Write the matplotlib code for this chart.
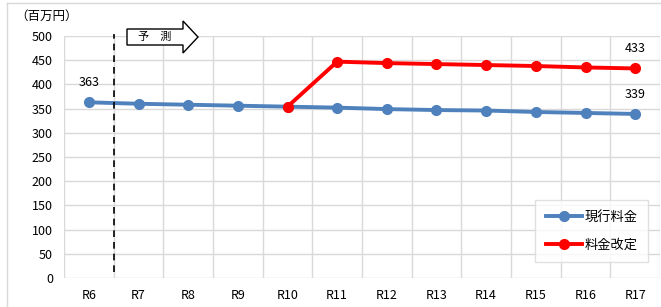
import matplotlib.pyplot as plt
from matplotlib.patches import Polygon
from matplotlib.lines import Line2D

plt.rcParams['font.family'] = ['Noto Sans CJK JP', 'DejaVu Sans']

years = ['R6', 'R7', 'R8', 'R9', 'R10', 'R11', 'R12', 'R13', 'R14', 'R15', 'R16', 'R17']
current = [363, 360, 358, 356, 354, 352, 349, 347, 346, 343, 341, 339]
revised_years = ['R10', 'R11', 'R12', 'R13', 'R14', 'R15', 'R16', 'R17']
revised = [354, 447, 444, 442, 440, 438, 435, 433]

blue = '#4f81bd'
red = '#ff0000'

W, H = 661, 307
fig = plt.figure(figsize=(W / 100, H / 100), dpi=100)
ax = fig.add_axes([64 / W, 1 - 278 / H, 596 / W, 242 / H])

xs = list(range(len(years)))
rx = [years.index(y) for y in revised_years]

ax.plot(xs, current, color=blue, lw=2.8, marker='o', ms=7, label='現行料金', zorder=3)
ax.plot(rx, revised, color=red, lw=2.8, marker='o', ms=7, label='料金改定', zorder=4)

ax.set_xlim(-0.5, len(years) - 0.5)
ax.set_ylim(0, 500)
ax.set_yticks(range(0, 501, 50))
ax.set_xticks(xs)
ax.set_xticklabels(years)
ax.set_xticks([i + 0.5 for i in range(-1, len(years))], minor=True)
ax.tick_params(which='both', length=0, labelsize=9, colors='black')
ax.tick_params(axis='x', pad=8)
ax.tick_params(axis='y', pad=8)
ax.grid(True, which='minor', axis='x', color='#d9d9d9', lw=1)
ax.grid(True, which='major', axis='y', color='#d9d9d9', lw=1)
for s in ax.spines.values():
    s.set_visible(False)

# data labels
ax.text(xs[0], current[0] + 40, str(current[0]), ha='center', va='center', fontsize=9)
ax.text(xs[-1], current[-1] + 40, str(current[-1]), ha='center', va='center', fontsize=9)
ax.text(rx[-1], revised[-1] + 41, str(revised[-1]), ha='center', va='center', fontsize=9)

# forecast divider
ax.plot([0.5, 0.5], [12, 505], color='black', lw=1.2, ls=(0, (4, 3)), clip_on=False, zorder=5)

# forecast arrow
pts = [(127, 29), (183, 29), (183, 21), (198, 37), (183, 53), (183, 45), (127, 45)]
fig.patches.append(Polygon([(x / W, 1 - y / H) for x, y in pts], closed=True,
                           transform=fig.transFigure, facecolor='white',
                           edgecolor='black', lw=1, zorder=6))
fig.text(155 / W, 1 - 37 / H, '予　測', ha='center', va='center', fontsize=8, zorder=7)

fig.text(15 / W, 1 - 16 / H, '（百万円）', ha='left', va='center', fontsize=9)

# outer frame
fig.add_artist(Line2D([7 / W, 7 / W], [0, 1 - 3 / H], color='#d9d9d9', lw=1,
                      transform=fig.transFigure))
fig.add_artist(Line2D([7 / W, 1], [1 - 3 / H, 1 - 3 / H], color='#d9d9d9', lw=1,
                      transform=fig.transFigure))

leg = ax.legend(loc='lower right', bbox_to_anchor=((648 - 64) / 596, (278 - 262) / 242),
                fontsize=9.5, frameon=True, fancybox=False, handlelength=2.8,
                labelspacing=1.1, borderpad=0.8, handletextpad=0.15, borderaxespad=0)
leg.get_frame().set_edgecolor('#d9d9d9')
leg.get_frame().set_linewidth(1)

fig.savefig('out.png', dpi=100)
